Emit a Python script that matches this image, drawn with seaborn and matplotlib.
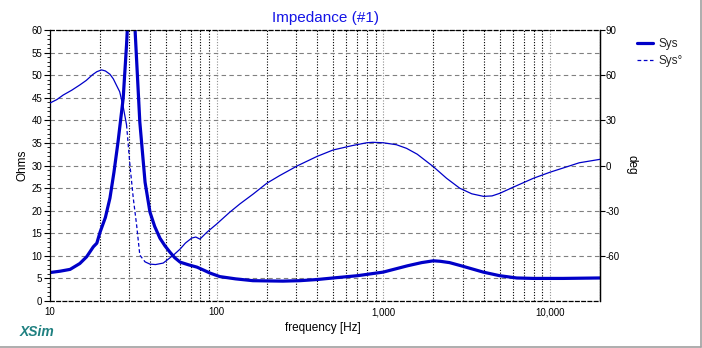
import numpy as np
import pandas as pd
import matplotlib
matplotlib.use("Agg")
import matplotlib.pyplot as plt
import seaborn as sns
from matplotlib.ticker import FixedLocator, FixedFormatter, MultipleLocator, LogLocator, NullFormatter
from matplotlib.lines import Line2D

# ---- data ----
mag_freq = [10, 11.5, 13.2, 15.1, 16.6, 18.2, 19.1, 20, 21.5, 22.9, 24.2, 25.6, 27.5, 28.8, 30.5,
            32.4, 34.6, 37.2, 39.8, 42.5, 45.7, 49, 52.5, 56, 60.4, 68, 76.2, 84, 91, 104.6, 130,
            165, 200, 250, 316, 400, 500, 700, 1000, 1400, 1700, 2000, 2190, 2500, 3000, 3980,
            5000, 6320, 8000, 12000, 20000]
mag_ohms = [6.3, 6.6, 7.0, 8.3, 9.8, 12.0, 12.8, 15.3, 18.5, 22.8, 28.5, 35.2, 44.9, 56.7, 75.0,
            60.0, 39.6, 26.3, 19.7, 16.5, 13.9, 12.2, 10.8, 9.6, 8.6, 8.0, 7.5, 6.8, 6.2, 5.4, 4.9,
            4.5, 4.45, 4.4, 4.5, 4.75, 5.1, 5.6, 6.4, 7.8, 8.5, 8.9, 8.8, 8.5, 7.7, 6.4,
            5.6, 5.1, 5.0, 5.0, 5.1]

phase_freq = [10, 11, 12.0, 13.5, 15.1, 16.5, 18, 19.1, 20.4, 21.5, 22.9, 24, 25, 26.2, 27.5, 28.8,
              30.2, 31.6, 33.1, 34.6, 37.2, 39.8, 43, 47.8, 55.1, 60.4, 65, 70.9, 75, 79.4, 87.3, 100,
              120, 138, 166, 200, 239, 308, 400, 500, 650, 796, 866, 1000, 1200, 1380, 1600, 2000,
              2400, 2880, 3400, 4000, 4500, 5000, 6000, 7960, 10000, 12700, 15000, 20000]
phase_deg = [41.5, 43.8, 46.8, 50.0, 53.5, 56.5, 60.3, 62.3, 63.5, 62.8, 60.6, 57.5, 53.5, 49.0, 39.0,
             27.0, 0.0, -21.6, -39.5, -59.5, -64.0, -65.5, -65.8, -64.8, -59.5, -55.5, -51.5, -48.2,
             -47.5, -48.9, -44.4, -38.9, -31.0, -25.5, -18.9, -11.8, -6.7, 0.0, 6.0, 10.3, 13.2,
             15.1, 15.4, 15.1, 13.8, 11.4, 7.5, -0.8, -8.5, -15.1, -18.8, -20.5, -20.2, -18.5,
             -14.5, -8.5, -4.5, -0.8, 1.8, 4.1]

x_ticks = [10, 100, 1000, 10000]
x_tick_labels = ["10", "100", "1,000", "10,000"]
ohm_ticks = list(range(0, 61, 5))
deg_ticks = [-60, -30, 0, 30, 60, 90]

mag_df = pd.DataFrame({"freq": mag_freq, "ohms": mag_ohms})
ph_df = pd.DataFrame({"freq": phase_freq, "deg": phase_deg})

# ---- style ----
sns.set_theme(style="white")
plt.rcParams["font.family"] = ["Liberation Sans", "DejaVu Sans"]
plt.rcParams["axes.unicode_minus"] = False

W, H = 702, 348
fig = plt.figure(figsize=(W / 100, H / 100), dpi=100)
ax = fig.add_axes([50 / W, 1 - 301 / H, 550 / W, 271 / H])
ax2 = ax.twinx()

line_col = "#0000C8"

# magnitude
sns.lineplot(data=mag_df, x="freq", y="ohms", ax=ax, color=line_col, linewidth=2.3,
             estimator=None, sort=True, legend=False)

# phase: solid where shallow, dashed through the steep drop
steep = (ph_df["freq"] >= 28.8) & (ph_df["freq"] <= 37.2)
low = ph_df["freq"] <= 28.8
high = ph_df["freq"] >= 37.2
for mask, ls in [(low, "-"), (steep, (0, (3, 2))), (high, "-")]:
    sns.lineplot(data=ph_df[mask], x="freq", y="deg", ax=ax2, color=line_col,
                 linewidth=0.9, linestyle=ls, estimator=None, sort=True, legend=False)

# ---- axes ----
ax.set_xscale("log")
ax.set_xlim(10, 20000)
ax.set_ylim(0, 60)
ax2.set_ylim(-90, 90)

ax.xaxis.set_major_locator(FixedLocator(x_ticks))
ax.xaxis.set_major_formatter(FixedFormatter(x_tick_labels))
ax.xaxis.set_minor_locator(LogLocator(base=10, subs=range(2, 10)))
ax.xaxis.set_minor_formatter(NullFormatter())
ax.yaxis.set_major_locator(FixedLocator(ohm_ticks))
ax.yaxis.set_minor_locator(MultipleLocator(1))
ax2.yaxis.set_major_locator(FixedLocator(deg_ticks))

ax.tick_params(axis="x", which="both", length=0, pad=4.5, labelsize=7, colors="black")
ax.tick_params(axis="y", which="major", left=True, length=4.5, width=0.8, pad=1,
               labelsize=7, colors="black", direction="out")
ax.tick_params(axis="y", which="minor", left=True, length=2.2, width=0.6, direction="out",
               colors="black")
ax2.tick_params(axis="y", which="major", right=True, length=3.5, width=0.8, pad=0.5,
                labelsize=7, colors="black", direction="out")

# grid
ax.grid(which="major", axis="y", color="#808080", linestyle=(0, (4, 3)), linewidth=0.8)
ax.grid(which="minor", axis="x", color="black", linestyle=(0, (1, 1.5)), linewidth=0.8)
ax.grid(which="major", axis="x", color="#909090", linestyle=(0, (1, 1.5)), linewidth=0.8)
ax2.grid(False)
ax.set_axisbelow(True)

for a in (ax, ax2):
    for s in a.spines.values():
        s.set_color("black")
        s.set_linewidth(0.9)
ax.spines["top"].set_linestyle((0, (3, 2)))
ax.spines["bottom"].set_linestyle((0, (3, 2)))
ax2.spines["top"].set_visible(False)
ax2.spines["bottom"].set_visible(False)
ax2.spines["left"].set_visible(False)

ax.set_xlabel("")
ax.set_ylabel("")
ax2.set_xlabel("")
ax2.set_ylabel("")

# labels
fig.text(323 / W, 1 - 327.5 / H, "frequency [Hz]", ha="center", va="center", fontsize=8.5, color="black")
fig.text(22.5 / W, 1 - 165 / H, "Ohms", ha="center", va="center", rotation=90, fontsize=8.5, color="black")
fig.text(631 / W, 1 - 165 / H, "deg", ha="center", va="center", rotation=270, fontsize=8.5, color="black")
fig.text(325 / W, 1 - 18 / H, "Impedance (#1)", ha="center", va="center", fontsize=11, color="#1414E6")
fig.text(20 / W, 1 - 332 / H, "XSim", ha="left", va="center", fontsize=10, color="#1F8080",
         fontweight="bold", fontstyle="italic")

# legend
handles = [Line2D([], [], color=line_col, linewidth=2.3),
           Line2D([], [], color=line_col, linewidth=0.9, linestyle=(0, (3, 2)))]
fig.legend(handles, ["Sys", "Sys°"], loc="upper left", bbox_to_anchor=(637 / W, 1 - 38 / H),
           frameon=False, fontsize=8.5, handlelength=1.35, handletextpad=0.45,
           labelspacing=0.45, borderpad=0, borderaxespad=0)

# window frame on right and bottom
fig.add_artist(Line2D([700.5 / W, 700.5 / W], [1 - 346.5 / H, 1], color="#A0A0A0", linewidth=1.2,
                      transform=fig.transFigure))
fig.add_artist(Line2D([0, 700.5 / W], [1 - 346.5 / H, 1 - 346.5 / H], color="#A0A0A0", linewidth=1.2,
                      transform=fig.transFigure))

fig.savefig("out.png", dpi=100)
